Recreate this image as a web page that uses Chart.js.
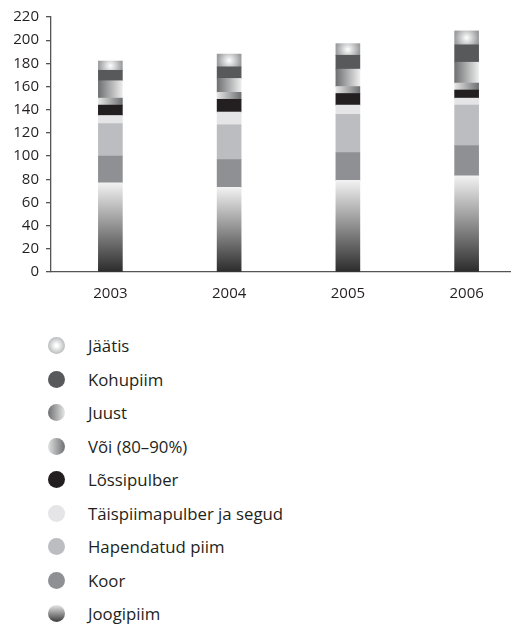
<!DOCTYPE html>
<html>
<head>
<meta charset="utf-8">
<script src="https://cdn.jsdelivr.net/npm/chart.js@4"></script>
<style>
  body { margin: 0; background: #fff; font-family: 'Open Sans', sans-serif; overflow: hidden; }
  #clip { position: relative; width: 511px; height: 310px; overflow: hidden; }
  #wrap { position: relative; width: 530px; height: 310px; }
  #legend { list-style: none; margin: 0; padding: 0; position: absolute; left: 48px; top: 329px; }
  #legend li { height: 33.5px; display: flex; align-items: center; font-size: 16.8px; color: #231f20; }
  #legend .dot { width: 17px; height: 17px; border-radius: 50%; margin-right: 23px; flex: none; }
</style>
</head>
<body>
<div id="clip"><div id="wrap"><canvas id="chart"></canvas></div></div>
<ul id="legend"></ul>
<script>
const years = ['2003', '2004', '2005', '2006'];

// bottom to top, as stacked
const joogipiim = [77, 73, 79, 83];
const koor = [23, 24, 24, 26];
const hapendatud = [28, 30, 33, 35];
const taispiim = [7, 11, 8, 6];
const lossipulber = [9, 11, 10, 7];
const voi = [6, 6, 6, 6];
const juust = [15, 12, 15, 18];
const kohupiim = [9, 10, 12, 15];
const jaatis = [8, 11, 10, 12];

const names = ['Joogipiim', 'Koor', 'Hapendatud piim', 'Täispiimapulber ja segud',
  'Lõssipulber', 'Või (80–90%)', 'Juust', 'Kohupiim', 'Jäätis'];
const series = [joogipiim, koor, hapendatud, taispiim, lossipulber, voi, juust, kohupiim, jaatis];

// fill style per series: flat colour or gradient kind
const fills = [
  {kind: 'vertical', from: '#2b2b2b', to: '#f2f2f2', css: 'linear-gradient(to bottom, #e8e8e8, #3a3a3a)'},
  {kind: 'flat', color: '#8f9093', css: '#8f9093'},
  {kind: 'flat', color: '#bcbdc0', css: '#bcbdc0'},
  {kind: 'flat', color: '#e5e5e7', css: '#e5e5e7'},
  {kind: 'flat', color: '#231f20', css: '#231f20'},
  {kind: 'horizontal', from: '#e6e6e6', to: '#6f7072', css: 'linear-gradient(to right, #e0e0e0, #6f7072)'},
  {kind: 'horizontal', from: '#6f7072', to: '#ececec', css: 'linear-gradient(to right, #6f7072, #e6e6e6)'},
  {kind: 'flat', color: '#58595b', css: '#58595b'},
  {kind: 'radial', from: '#ffffff', to: '#9a9b9d', css: 'radial-gradient(circle, #ffffff 10%, #9a9b9d 100%)'}
];

function segFill(si) {
  const f = fills[si];
  if (f.kind === 'flat') return f.color;
  return function (context) {
    const chart = context.chart;
    if (!chart.chartArea || !chart.scales.x || !chart.scales.y) return f.to;
    const i = context.dataIndex;
    let base = 0;
    for (let k = 0; k < si; k++) base += series[k][i];
    const top = base + series[si][i];
    const y0 = chart.scales.y.getPixelForValue(base);
    const y1 = chart.scales.y.getPixelForValue(top);
    const cx = chart.scales.x.getPixelForValue(i);
    const half = 12;
    const ctx = chart.ctx;
    let g;
    if (f.kind === 'vertical') {
      g = ctx.createLinearGradient(0, y0, 0, y1);
    } else if (f.kind === 'horizontal') {
      g = ctx.createLinearGradient(cx - half, 0, cx + half, 0);
    } else {
      const cy = (y0 + y1) / 2;
      g = ctx.createRadialGradient(cx, cy, 0, cx, cy, half);
    }
    g.addColorStop(0, f.from);
    g.addColorStop(1, f.to);
    return g;
  };
}

const datasets = series.map((vals, si) => ({
  label: names[si],
  data: vals,
  backgroundColor: segFill(si),
  borderWidth: 0,
  barThickness: 24
}));

new Chart(document.getElementById('chart'), {
  type: 'bar',
  data: { labels: years, datasets: datasets },
  options: {
    responsive: true,
    maintainAspectRatio: false,
    animation: false,
    layout: { padding: { top: 17, right: 4, bottom: 0, left: 0 } },
    scales: {
      x: {
        stacked: true,
        grid: { display: false },
        border: { color: '#555', width: 1.3 },
        ticks: { color: '#231f20', padding: 5, font: { family: 'Open Sans', size: 15 } },
        afterFit: (scale) => { scale.height = 38; }
      },
      y: {
        stacked: true,
        min: 0,
        max: 220,
        grid: { drawOnChartArea: false, tickLength: 5, color: '#555', lineWidth: 1.3 },
        border: { color: '#555', width: 1.3 },
        ticks: { stepSize: 20, color: '#231f20', padding: 7, font: { family: 'Open Sans', size: 15 } },
        afterFit: (scale) => { scale.width = 51; }
      }
    },
    plugins: {
      legend: { display: false },
      tooltip: { enabled: false }
    }
  }
});

const legend = document.getElementById('legend');
for (let si = series.length - 1; si >= 0; si--) {
  const li = document.createElement('li');
  const dot = document.createElement('span');
  dot.className = 'dot';
  dot.style.background = fills[si].css;
  li.appendChild(dot);
  li.appendChild(document.createTextNode(names[si]));
  legend.appendChild(li);
}
</script>
</body>
</html>
